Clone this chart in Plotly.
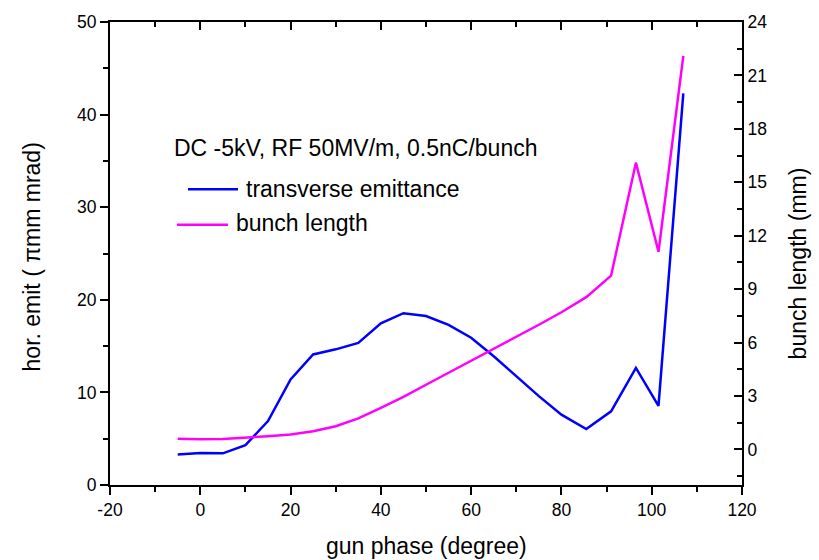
import plotly.graph_objects as go

phase = [-5, 0, 5, 10, 15, 20, 25, 30, 35, 40, 45, 50, 55, 60, 65, 70, 75, 80, 85.5, 91, 96.5, 101.5, 107]
emit = [3.3, 3.45, 3.42, 4.3, 6.9, 11.4, 14.1, 14.65, 15.35, 17.45, 18.55, 18.25, 17.3, 15.9, 13.9,
        11.75, 9.6, 7.6, 6.05, 7.95, 12.65, 8.55, 42.3]
blen = [0.6, 0.57, 0.59, 0.65, 0.74, 0.84, 1.02, 1.3, 1.74, 2.33, 2.95, 3.63, 4.3, 4.98, 5.65,
        6.33, 7.0, 7.7, 8.55, 9.76, 16.1, 11.1, 22.1]

x_tickvals = [-20, 0, 20, 40, 60, 80, 100, 120]
x_ticktext = ["-20", "0", "20", "40", "60", "80", "100", "120"]

x_range = [-20, 120]
y_left_range = [0, 50]
y_right_range = [-2, 24]

FONT = "Liberation Sans, Arial, sans-serif"
BLUE = "#0000FF"
MAGENTA = "#FF00FF"

fig = go.Figure()
fig.add_trace(go.Scatter(x=phase, y=emit, mode="lines", name="transverse emittance",
                         line=dict(color=BLUE, width=2.5), xaxis="x", yaxis="y", showlegend=False))
fig.add_trace(go.Scatter(x=phase, y=blen, mode="lines", name="bunch length",
                         line=dict(color=MAGENTA, width=2.5), xaxis="x", yaxis="y2", showlegend=False))
# invisible trace anchoring the top (mirror) axis
fig.add_trace(go.Scatter(x=[None], y=[None], xaxis="x2", yaxis="y", showlegend=False, hoverinfo="skip"))

axis_common = dict(showgrid=False, zeroline=False, showline=True, linecolor="black", linewidth=2,
                   tickcolor="black", tickwidth=1.5, ticklen=8,
                   tickfont=dict(family=FONT, size=17.5, color="black"))

fig.update_layout(
    width=819, height=560,
    margin=dict(l=110, r=77, t=17, b=75),
    paper_bgcolor="white", plot_bgcolor="white",
    font=dict(family=FONT, color="black"),
    xaxis=dict(range=x_range, tickvals=x_tickvals, ticktext=x_ticktext, ticks="outside",
               minor=dict(ticks="outside", dtick=10, ticklen=5, tickcolor="black", tickwidth=1.5),
               **axis_common),
    xaxis2=dict(range=x_range, tickvals=x_tickvals, ticks="inside", overlaying="x", side="top",
                showticklabels=False,
                minor=dict(ticks="inside", dtick=10, ticklen=5, tickcolor="black", tickwidth=1.5),
                **axis_common),
    yaxis=dict(range=y_left_range, dtick=10, ticks="outside",
               minor=dict(ticks="outside", dtick=5, ticklen=5, tickcolor="black", tickwidth=1.5),
               **axis_common),
    yaxis2=dict(range=y_right_range, tick0=0, dtick=3, ticks="inside", overlaying="y", side="right",
                minor=dict(ticks="inside", tick0=0, dtick=1.5, ticklen=5, tickcolor="black", tickwidth=1.5),
                **axis_common),
)

def px_x(p):
    return (p - 110) / 632.0

def px_y(p):
    return (485 - p) / 468.0

annots = [
    dict(text="gun phase (degree)", x=px_x(426), y=px_y(547), xanchor="center", yanchor="middle", size=23),
    dict(text="hor. emit ( πmm mrad)", x=px_x(32), y=px_y(255), xanchor="center",
         yanchor="middle", textangle=-90, size=23),
    dict(text="bunch length (mm)", x=px_x(798), y=px_y(261), xanchor="center", yanchor="middle",
         textangle=-90, size=23),
    dict(text="DC -5kV, RF 50MV/m, 0.5nC/bunch", x=px_x(172), y=px_y(144), xanchor="left",
         yanchor="middle", size=23),
    dict(text="transverse emittance", x=px_x(244), y=px_y(186), xanchor="left", yanchor="middle", size=23),
    dict(text="bunch length", x=px_x(234), y=px_y(220), xanchor="left", yanchor="middle", size=23),
]
for a in annots:
    s = a.pop("size")
    a.update(xref="paper", yref="paper", showarrow=False,
             font=dict(family=FONT, color="black", size=s))
fig.update_layout(annotations=annots)

fig.add_shape(type="line", xref="paper", yref="paper", x0=px_x(188), x1=px_x(238),
              y0=px_y(186), y1=px_y(186), line=dict(color=BLUE, width=2.5))
fig.add_shape(type="line", xref="paper", yref="paper", x0=px_x(177), x1=px_x(228),
              y0=px_y(222), y1=px_y(222), line=dict(color=MAGENTA, width=2.5))

fig.write_html("out.html", config={"displayModeBar": False},
               post_script="document.body.style.margin='0';")
